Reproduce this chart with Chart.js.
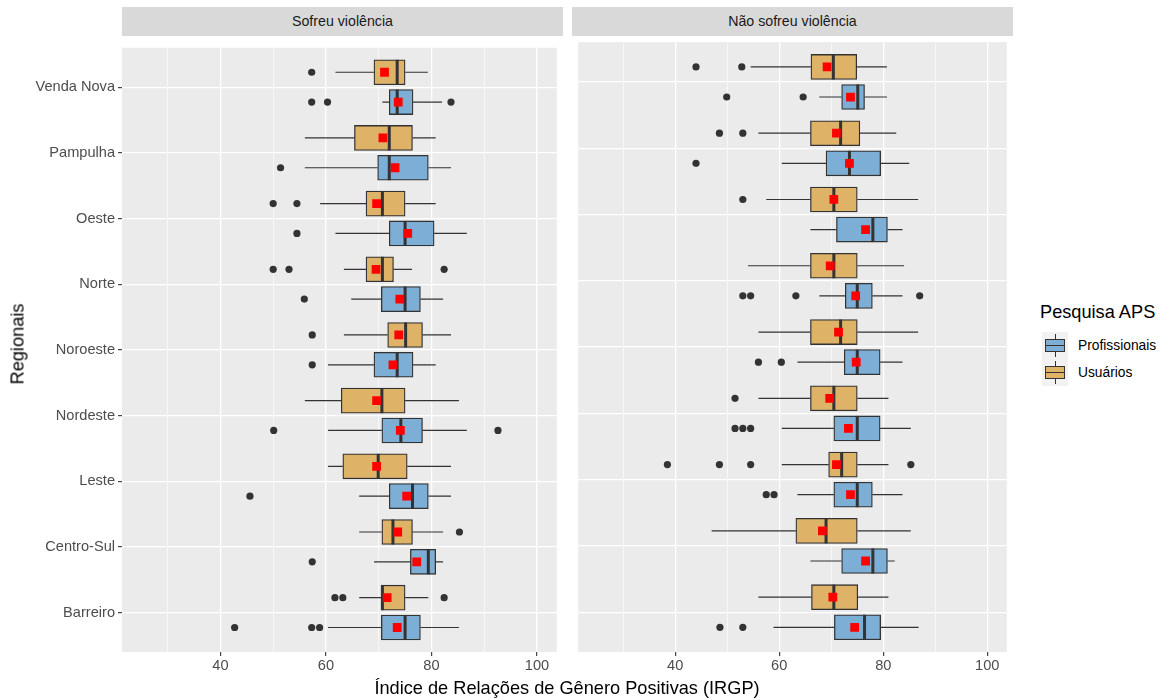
<!DOCTYPE html>
<html>
<head>
<meta charset="utf-8">
<script src="https://cdn.jsdelivr.net/npm/chart.js@4"></script>
<style>
  html, body { margin: 0; padding: 0; background: #fff; }
  body { width: 1167px; height: 700px; position: relative; overflow: hidden;
         font-family: "Liberation Sans", Arial, sans-serif; }
  canvas { position: absolute; }
  .strip { position: absolute; top: 7px; height: 29px; width: 441px; background: #D9D9D9;
           color: #1A1A1A; font-size: 14.2px; line-height: 29px; text-align: center; }
  .title { position: absolute; font-size: 18.2px; color: #000; white-space: nowrap; }
  .legend-label { position: absolute; font-size: 13.8px; color: #000; white-space: nowrap; }
  .key { position: absolute; left: 1042px; width: 26px; height: 27px; background: #F2F2F2; }
  .key .w { position: absolute; left: 12.5px; width: 1.2px; background: #333; }
  .key .b { position: absolute; left: 3px; top: 7px; width: 18px; height: 11px; border: 1.2px solid #333; }
  .key .m { position: absolute; left: 3px; top: 13px; width: 20px; height: 1.2px; background: #333; }
</style>
</head>
<body>
<div class="strip" style="left:122px">Sofreu violência</div>
<div class="strip" style="left:572px">Não sofreu violência</div>
<canvas id="left" width="563" height="644" style="left:0;top:36px"></canvas>
<canvas id="right" width="441" height="644" style="left:572px;top:36px"></canvas>

<div class="title" style="left:567px;top:688px;transform:translate(-50%,-50%)">Índice de Relações de Gênero Positivas (IRGP)</div>
<div class="title" style="left:18px;top:344px;transform:translate(-50%,-50%) rotate(-90deg)">Regionais</div>

<div class="title" style="left:1040px;top:312px;transform:translateY(-50%)">Pesquisa APS</div>
<div class="key" style="top:332px"><div class="w" style="top:2px;height:23px"></div><div class="b" style="background:#7DAFD6"></div><div class="m"></div></div>
<div class="key" style="top:359px"><div class="w" style="top:2px;height:23px"></div><div class="b" style="background:#DEB368"></div><div class="m"></div></div>
<div class="legend-label" style="left:1078px;top:345px;transform:translateY(-50%)">Profissionais</div>
<div class="legend-label" style="left:1078px;top:372px;transform:translateY(-50%)">Usuários</div>

<script>
/* Regionais x IRGP boxplots, faceted by violence */

const regionais = ['Venda Nova', 'Pampulha', 'Oeste', 'Norte', 'Noroeste', 'Nordeste', 'Leste', 'Centro-Sul', 'Barreiro'];
const xTicks = [40, 60, 80, 100];

// each row: [lower whisker, Q1, median, Q3, upper whisker]
const sofreuUsuarios = [
  [61.8, 69.1, 73.5, 75.0, 79.3],
  [56.0, 65.4, 72.0, 76.4, 80.8],
  [58.9, 67.6, 70.7, 75.0, 80.8],
  [63.4, 67.6, 70.7, 72.8, 76.3],
  [63.4, 71.7, 75.1, 78.3, 83.7],
  [56.0, 62.9, 70.6, 75.0, 85.2],
  [60.4, 63.2, 69.9, 75.4, 83.7],
  [66.3, 70.6, 72.7, 76.4, 82.2],
  [66.3, 70.5, 70.7, 75.0, 79.4],
];
const sofreuUsuariosMedia = [71.1, 70.8, 69.6, 69.5, 73.8, 69.6, 69.6, 73.6, 71.6];
const sofreuUsuariosOutliers = [[57.3], [], [50.0, 54.5], [50.0, 53.0, 82.4], [57.4], [], [], [85.3], [61.7, 63.2, 82.4]];

const sofreuProfissionais = [
  [70.7, 72.0, 73.5, 76.5, 82.0],
  [56.0, 69.8, 72.0, 79.4, 83.7],
  [61.8, 72.0, 75.0, 80.5, 86.7],
  [64.8, 70.5, 75.0, 77.9, 82.2],
  [60.4, 69.1, 73.5, 76.5, 80.8],
  [60.4, 70.6, 74.2, 78.3, 86.7],
  [66.3, 72.0, 76.4, 79.4, 83.7],
  [69.1, 76.0, 79.4, 80.8, 82.2],
  [60.4, 70.5, 75.0, 77.9, 85.2],
];
const sofreuProfissionaisMedia = [73.7, 73.1, 75.5, 74.0, 72.7, 74.1, 75.3, 77.2, 73.5];
const sofreuProfissionaisOutliers = [[57.3, 60.3, 83.7], [51.4], [54.5], [55.9], [57.4], [50.1, 92.6], [45.6], [57.4], [42.7, 57.3, 58.8]];

const naoUsuarios = [
  [54.5, 66.1, 70.4, 74.9, 80.7],
  [56.0, 66.0, 71.8, 75.5, 82.5],
  [57.5, 66.0, 70.5, 75.0, 86.7],
  [54.0, 66.0, 70.5, 75.0, 84.0],
  [56.0, 66.0, 71.8, 75.0, 86.7],
  [56.0, 66.0, 70.5, 75.0, 81.0],
  [60.5, 69.5, 72.0, 75.0, 81.0],
  [47.0, 63.2, 69.0, 75.0, 85.3],
  [56.0, 66.2, 70.5, 75.1, 81.0],
];
const naoUsuariosMedia = [69.2, 71.0, 70.5, 69.8, 71.4, 69.7, 71.0, 68.3, 70.3];
const naoUsuariosOutliers = [[44.0, 52.8], [48.5, 53.0], [53.0], [], [], [51.5], [38.5, 48.5, 54.5, 85.3], [], []];

const naoProfissionais = [
  [67.7, 72.0, 75.1, 76.4, 80.7],
  [60.5, 69.0, 73.5, 79.5, 85.0],
  [66.0, 71.0, 78.0, 80.8, 83.7],
  [67.7, 72.7, 75.0, 77.9, 83.7],
  [63.5, 72.5, 75.0, 79.4, 83.7],
  [60.5, 70.5, 75.0, 79.4, 85.3],
  [63.5, 70.5, 75.0, 77.9, 83.7],
  [66.0, 72.0, 78.0, 80.8, 82.2],
  [58.9, 70.6, 76.4, 79.5, 86.8],
];
const naoProfissionaisMedia = [73.7, 73.5, 76.6, 74.7, 74.8, 73.3, 73.7, 76.6, 74.5];
const naoProfissionaisOutliers = [[49.9, 64.6], [44.0], [], [53.0, 54.5, 63.2, 87.0], [56.0, 60.4], [51.5, 53.0, 54.5], [57.5, 59.0], [], [48.6, 53.0]];

const COR_PROF = '#7DAFD6';
const COR_USU = '#DEB368';
const DODGE = 0.227;
const BOX_H = 25;
const INK = '#333333';

/* panel background */
const panelBg = {
  id: 'panelBg',
  beforeDraw(chart) {
    const { ctx, chartArea: a } = chart;
    ctx.save();
    ctx.fillStyle = '#EBEBEB';
    ctx.fillRect(a.left, a.top, a.right - a.left, a.bottom - a.top);
    ctx.restore();
  },
};

/* whiskers + median drawn right after each box dataset */
const boxParts = {
  id: 'boxParts',
  afterDatasetDraw(chart, args) {
    const ds = chart.data.datasets[args.index];
    if (!ds.isBox) return;
    const { ctx, scales } = chart;
    const px = (v) => scales.x.getPixelForValue(v);
    ctx.save();
    ctx.strokeStyle = INK;
    ds.data.forEach((d) => {
      const y = scales.y.getPixelForValue(d.y);
      ctx.lineWidth = 1.2;
      ctx.beginPath();
      ctx.moveTo(px(d.lo), y); ctx.lineTo(px(d.x[0]), y);
      ctx.moveTo(px(d.x[1]), y); ctx.lineTo(px(d.hi), y);
      ctx.stroke();
      ctx.lineWidth = 3;
      ctx.beginPath();
      ctx.moveTo(px(d.med), y - BOX_H / 2); ctx.lineTo(px(d.med), y + BOX_H / 2);
      ctx.stroke();
    });
    ctx.restore();
  },
};

function boxData(rows, shift) {
  return rows.map((r, i) => ({ x: [r[1], r[3]], y: i + 1 + shift, lo: r[0], med: r[2], hi: r[4] }));
}
function pointData(vals, shift) {
  return vals.map((v, i) => ({ x: v, y: i + 1 + shift }));
}
function outlierData(lists, shift) {
  const out = [];
  lists.forEach((l, i) => l.forEach((v) => out.push({ x: v, y: i + 1 + shift })));
  return out;
}

const FONT = { family: '"Liberation Sans", Arial, sans-serif', size: 14.6 };

function makePanel(id, usu, usuMed, usuOut, prof, profMed, profOut, showY) {
  const boxCommon = {
    type: 'bar', isBox: true, grouped: false,
    borderColor: INK, borderWidth: 1.3, borderSkipped: false, barThickness: BOX_H, order: 2,
  };
  new Chart(document.getElementById(id), {
    type: 'bar',
    data: {
      datasets: [
        { ...boxCommon, label: 'Usuários', data: boxData(usu, -DODGE), backgroundColor: COR_USU },
        { ...boxCommon, label: 'Profissionais', data: boxData(prof, DODGE), backgroundColor: COR_PROF },
        {
          type: 'scatter', label: 'outliers', order: 1,
          data: outlierData(usuOut, -DODGE).concat(outlierData(profOut, DODGE)),
          pointRadius: 3.6, backgroundColor: INK, borderWidth: 0,
        },
        {
          type: 'scatter', label: 'média', order: 0,
          data: pointData(usuMed, -DODGE).concat(pointData(profMed, DODGE)),
          pointStyle: 'rect', pointRadius: 6.2, backgroundColor: '#FF0000', borderWidth: 0,
        },
      ],
    },
    options: {
      indexAxis: 'y',
      responsive: false, animation: false, devicePixelRatio: 1,
      layout: { padding: 0 },
      plugins: { legend: { display: false }, tooltip: { enabled: false } },
      scales: {
        x: {
          type: 'linear', min: 21.35, max: 103.75, offset: false, beginAtZero: false,
          afterFit: (s) => { s.height = 28; },
          border: { display: false },
          grid: {
            offset: false,
            color: '#FFFFFF',
            lineWidth: (c) => (c.tick && xTicks.includes(c.tick.value) ? 1.3 : 0.6),
            tickColor: (c) => (c.tick && xTicks.includes(c.tick.value) ? INK : 'rgba(0,0,0,0)'),
            tickLength: 4, tickWidth: 1.1,
          },
          ticks: {
            stepSize: 10, includeBounds: false, autoSkip: false, maxRotation: 0,
            padding: 1, color: '#4D4D4D', font: FONT,
            callback: (v) => (xTicks.includes(v) ? String(v) : ''),
          },
        },
        y: {
          type: 'linear', min: 0.4, max: 9.6, reverse: true, offset: false, beginAtZero: false,
          afterFit: (s) => { s.width = showY ? 122 : 0; },
          border: { display: false },
          grid: {
            offset: false,
            color: '#FFFFFF', lineWidth: 1.3,
            drawTicks: showY, tickLength: 4, tickColor: INK, tickWidth: 1.1,
          },
          ticks: {
            display: showY, stepSize: 1, includeBounds: false, autoSkip: false,
            padding: 3, color: '#4D4D4D', font: FONT,
            callback: (v) => regionais[v - 1] || '',
          },
        },
      },
    },
    plugins: [panelBg, boxParts],
  });
}

makePanel('left', sofreuUsuarios, sofreuUsuariosMedia, sofreuUsuariosOutliers,
  sofreuProfissionais, sofreuProfissionaisMedia, sofreuProfissionaisOutliers, true);
makePanel('right', naoUsuarios, naoUsuariosMedia, naoUsuariosOutliers,
  naoProfissionais, naoProfissionaisMedia, naoProfissionaisOutliers, false);
</script>
</body>
</html>
